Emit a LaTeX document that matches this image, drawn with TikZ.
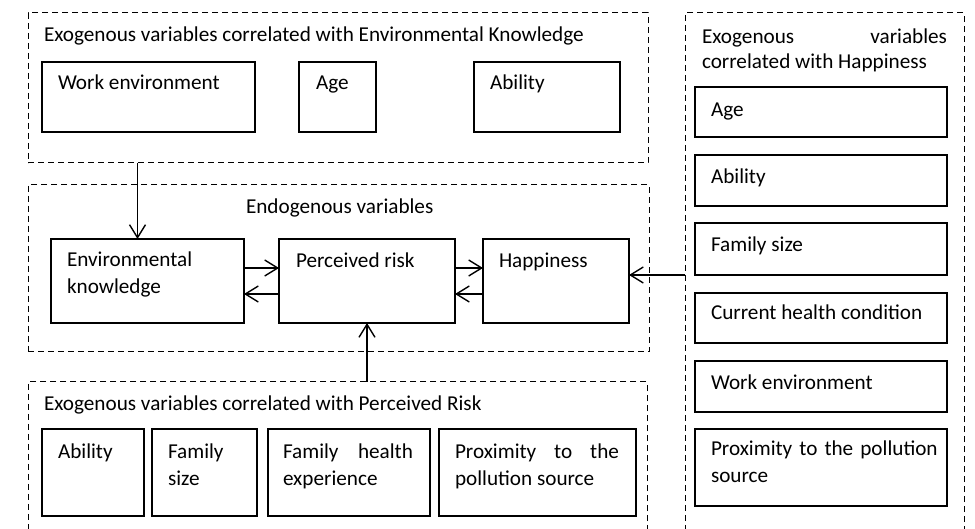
\documentclass[tikz,border=0pt]{standalone}
\usepackage{fontspec}
\setmainfont{Carlito}
\usetikzlibrary{arrows.meta}
\begin{document}
\begin{tikzpicture}[x=1pt,y=-1pt,
  every node/.style={font=\fontsize{21.2}{27}\selectfont},
  sbox/.style={draw, line width=1.3pt, inner sep=0pt, outer sep=0pt, anchor=north west},
  dbox/.style={draw, line width=1pt, dash pattern=on 6pt off 4pt, inner sep=0pt, outer sep=0pt, anchor=north west},
  lbl/.style={anchor=base west, inner sep=0pt, outer sep=0pt, align=left},
  mlbl/.style={anchor=base west, inner sep=0pt, outer sep=0pt, text width=#1, align=left},
  jlbl/.style={anchor=base west, inner sep=0pt, outer sep=0pt, text width=#1, align=justify},
  arr/.style={line width=1.4pt, -{Straight Barb[length=13pt,width=16pt,line width=1.4pt]}}]

\fill[white] (0,0) rectangle (975,529);
\useasboundingbox (0,0) rectangle (975,529);
\clip (0,0) rectangle (975,529);

% exogenous variables of environmental knowledge
\node[dbox, minimum width=620pt, minimum height=150pt] (exek) at (28,13) {};
\node[lbl] (exek-t) at (44,42) {Exogenous variables correlated with Environmental Knowledge};
\node[sbox, minimum width=213pt, minimum height=70pt] (we1) at (42,62) {};
\node[lbl] (we1-t) at (58,90) {Work environment};
\node[sbox, minimum width=77pt, minimum height=70pt] (age1) at (299,62) {};
\node[lbl] (age1-t) at (316,90) {Age};
\node[sbox, minimum width=146pt, minimum height=70pt] (ab1) at (474,62) {};
\node[lbl] (ab1-t) at (490,90) {Ability};

% endogenous variables
\node[dbox, minimum width=621pt, minimum height=167pt] (endo) at (28,185) {};
\node[lbl] (endo-t) at (246,214) {Endogenous variables};
\node[sbox, minimum width=193pt, minimum height=84pt] (ek) at (51,239) {};
\node[mlbl=170pt] (ek-t) at (67,267) {Environmental\\knowledge};
\node[sbox, minimum width=176pt, minimum height=84pt] (pr) at (279,239) {};
\node[lbl] (pr-t) at (296,268) {Perceived risk};
\node[sbox, minimum width=146pt, minimum height=84pt] (hap) at (483,239) {};
\node[lbl] (hap-t) at (499,268) {Happiness};

% exogenous variables of perceived risk
\node[dbox, minimum width=619pt, minimum height=180pt] (expr) at (28,382) {};
\node[lbl] (expr-t) at (44,410) {Exogenous variables correlated with Perceived Risk};
\node[sbox, minimum width=102pt, minimum height=87pt] (ab2) at (42,429) {};
\node[lbl] (ab2-t) at (58,458) {Ability};
\node[sbox, minimum width=105pt, minimum height=87pt] (fs2) at (152,429) {};
\node[mlbl=80pt] (fs2-t) at (168,458) {Family\\size};
\node[sbox, minimum width=162pt, minimum height=87pt] (fhe) at (268,429) {};
\node[jlbl=130pt] (fhe-t) at (283,458) {Family health\linebreak experience};
\node[sbox, minimum width=197pt, minimum height=87pt] (px2) at (439,429) {};
\node[jlbl=164pt] (px2-t) at (455,458) {Proximity to the\linebreak pollution source};

% exogenous variables of happiness
\node[dbox, minimum width=279pt, minimum height=550pt] (exh) at (685,13) {};
\node[jlbl=245pt, font=\fontsize{21.2}{25}\selectfont] (exh-t) at (702,44) {Exogenous variables\linebreak correlated with Happiness};
\node[sbox, minimum width=252pt, minimum height=50pt] (age3) at (695,87) {};
\node[lbl] (age3-t) at (711,117) {Age};
\node[sbox, minimum width=252pt, minimum height=51pt] (ab3) at (695,155) {};
\node[lbl] (ab3-t) at (711,184) {Ability};
\node[sbox, minimum width=252pt, minimum height=52pt] (fs3) at (695,223) {};
\node[lbl] (fs3-t) at (711,252) {Family size};
\node[sbox, minimum width=252pt, minimum height=50pt] (chc) at (695,293) {};
\node[lbl] (chc-t) at (711,320) {Current health condition};
\node[sbox, minimum width=252pt, minimum height=51pt] (we3) at (695,361) {};
\node[lbl] (we3-t) at (711,389) {Work environment};
\node[sbox, minimum width=252pt, minimum height=77pt] (px3) at (695,429) {};
\node[mlbl=230pt] (px3-t) at (711,455) {Proximity to the pollution\\source};

% connectors
\draw[arr] ([yshift=13pt]ek.east) -- ([yshift=13pt]pr.west);
\draw[arr] ([yshift=-13pt]pr.west) -- ([yshift=-13pt]ek.east);
\draw[arr] ([yshift=13pt]pr.east) -- ([yshift=13pt]hap.west);
\draw[arr] ([yshift=-13pt]hap.west) -- ([yshift=-13pt]pr.east);
\coordinate (hapin) at ([yshift=6pt]hap.east);
\draw[arr] (exh.west |- hapin) -- (hapin);
\coordinate (ekin) at ([xshift=-10pt]ek.north);
\draw[arr] (exek.south -| ekin) -- (ekin);
\draw[arr] (expr.north -| pr.south) -- (pr.south);
\end{tikzpicture}
\end{document}
